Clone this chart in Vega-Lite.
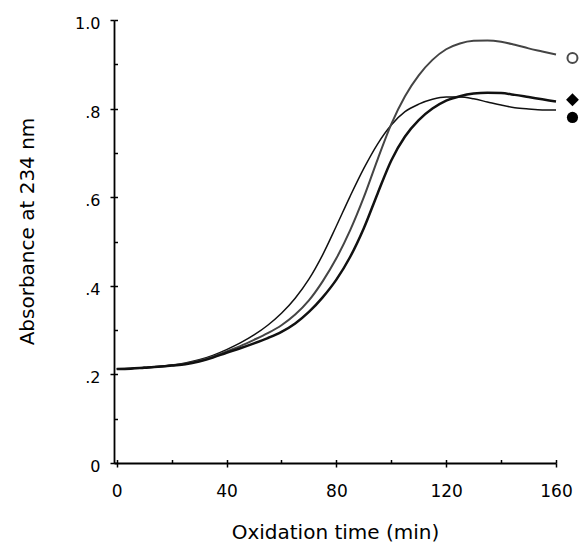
{
  "$schema": "https://vega.github.io/schema/vega-lite/v6.json",
  "width": 442,
  "height": 443,
  "autosize": {"type": "none"},
  "padding": {"left": 114, "top": 20, "right": 23, "bottom": 79},
  "background": "white",
  "config": {
    "view": {"stroke": null},
    "axis": {
      "domainColor": "black",
      "domainWidth": 1.8,
      "tickColor": "black",
      "tickWidth": 1.5,
      "labelColor": "black",
      "titleColor": "black",
      "labelFont": "DejaVu Sans",
      "titleFont": "DejaVu Sans",
      "titleFontWeight": "normal",
      "grid": false
    }
  },
  "datasets": {
    "curves": [
      {"t": 0, "A": 0.213, "s": "filled"}, {"t": 5, "A": 0.214, "s": "filled"}, {"t": 10, "A": 0.216, "s": "filled"}, {"t": 15, "A": 0.218, "s": "filled"}, {"t": 20, "A": 0.221, "s": "filled"}, {"t": 25, "A": 0.226, "s": "filled"}, {"t": 30, "A": 0.233, "s": "filled"}, {"t": 35, "A": 0.243, "s": "filled"}, {"t": 40, "A": 0.256, "s": "filled"}, {"t": 45, "A": 0.271, "s": "filled"}, {"t": 50, "A": 0.289, "s": "filled"}, {"t": 55, "A": 0.311, "s": "filled"}, {"t": 60, "A": 0.338, "s": "filled"}, {"t": 65, "A": 0.372, "s": "filled"}, {"t": 70, "A": 0.415, "s": "filled"}, {"t": 75, "A": 0.470, "s": "filled"}, {"t": 80, "A": 0.535, "s": "filled"}, {"t": 85, "A": 0.602, "s": "filled"}, {"t": 90, "A": 0.665, "s": "filled"}, {"t": 95, "A": 0.720, "s": "filled"}, {"t": 100, "A": 0.763, "s": "filled"}, {"t": 105, "A": 0.793, "s": "filled"}, {"t": 110, "A": 0.810, "s": "filled"}, {"t": 115, "A": 0.821, "s": "filled"}, {"t": 120, "A": 0.826, "s": "filled"}, {"t": 125, "A": 0.826, "s": "filled"}, {"t": 130, "A": 0.822, "s": "filled"}, {"t": 135, "A": 0.815, "s": "filled"}, {"t": 140, "A": 0.808, "s": "filled"}, {"t": 145, "A": 0.802, "s": "filled"}, {"t": 150, "A": 0.799, "s": "filled"}, {"t": 155, "A": 0.797, "s": "filled"}, {"t": 160, "A": 0.797, "s": "filled"},
      {"t": 0, "A": 0.212, "s": "open"}, {"t": 5, "A": 0.213, "s": "open"}, {"t": 10, "A": 0.215, "s": "open"}, {"t": 15, "A": 0.217, "s": "open"}, {"t": 20, "A": 0.220, "s": "open"}, {"t": 25, "A": 0.224, "s": "open"}, {"t": 30, "A": 0.231, "s": "open"}, {"t": 35, "A": 0.240, "s": "open"}, {"t": 40, "A": 0.252, "s": "open"}, {"t": 45, "A": 0.264, "s": "open"}, {"t": 50, "A": 0.278, "s": "open"}, {"t": 55, "A": 0.293, "s": "open"}, {"t": 60, "A": 0.311, "s": "open"}, {"t": 65, "A": 0.335, "s": "open"}, {"t": 70, "A": 0.367, "s": "open"}, {"t": 75, "A": 0.410, "s": "open"}, {"t": 80, "A": 0.462, "s": "open"}, {"t": 85, "A": 0.525, "s": "open"}, {"t": 90, "A": 0.600, "s": "open"}, {"t": 95, "A": 0.685, "s": "open"}, {"t": 100, "A": 0.765, "s": "open"}, {"t": 105, "A": 0.828, "s": "open"}, {"t": 110, "A": 0.875, "s": "open"}, {"t": 115, "A": 0.910, "s": "open"}, {"t": 120, "A": 0.934, "s": "open"}, {"t": 125, "A": 0.947, "s": "open"}, {"t": 130, "A": 0.953, "s": "open"}, {"t": 135, "A": 0.954, "s": "open"}, {"t": 140, "A": 0.951, "s": "open"}, {"t": 145, "A": 0.944, "s": "open"}, {"t": 150, "A": 0.936, "s": "open"}, {"t": 155, "A": 0.929, "s": "open"}, {"t": 160, "A": 0.922, "s": "open"},
      {"t": 0, "A": 0.212, "s": "diamond"}, {"t": 5, "A": 0.213, "s": "diamond"}, {"t": 10, "A": 0.215, "s": "diamond"}, {"t": 15, "A": 0.217, "s": "diamond"}, {"t": 20, "A": 0.220, "s": "diamond"}, {"t": 25, "A": 0.223, "s": "diamond"}, {"t": 30, "A": 0.229, "s": "diamond"}, {"t": 35, "A": 0.238, "s": "diamond"}, {"t": 40, "A": 0.249, "s": "diamond"}, {"t": 45, "A": 0.259, "s": "diamond"}, {"t": 50, "A": 0.270, "s": "diamond"}, {"t": 55, "A": 0.282, "s": "diamond"}, {"t": 60, "A": 0.296, "s": "diamond"}, {"t": 65, "A": 0.315, "s": "diamond"}, {"t": 70, "A": 0.341, "s": "diamond"}, {"t": 75, "A": 0.374, "s": "diamond"}, {"t": 80, "A": 0.414, "s": "diamond"}, {"t": 85, "A": 0.465, "s": "diamond"}, {"t": 90, "A": 0.530, "s": "diamond"}, {"t": 95, "A": 0.608, "s": "diamond"}, {"t": 100, "A": 0.683, "s": "diamond"}, {"t": 105, "A": 0.737, "s": "diamond"}, {"t": 110, "A": 0.774, "s": "diamond"}, {"t": 115, "A": 0.800, "s": "diamond"}, {"t": 120, "A": 0.818, "s": "diamond"}, {"t": 125, "A": 0.828, "s": "diamond"}, {"t": 130, "A": 0.834, "s": "diamond"}, {"t": 135, "A": 0.836, "s": "diamond"}, {"t": 140, "A": 0.835, "s": "diamond"}, {"t": 145, "A": 0.831, "s": "diamond"}, {"t": 150, "A": 0.826, "s": "diamond"}, {"t": 155, "A": 0.821, "s": "diamond"}, {"t": 160, "A": 0.816, "s": "diamond"}
    ],
    "markers": [
      {"t": 166, "A": 0.914, "s": "open"},
      {"t": 166, "A": 0.820, "s": "diamond"},
      {"t": 166, "A": 0.780, "s": "filled"}
    ]
  },
  "resolve": {"axis": {"x": "independent", "y": "independent"}},
  "layer": [
    {
      "data": {"name": "curves"},
      "mark": {"type": "line", "interpolate": "monotone", "clip": false},
      "encoding": {
        "x": {
          "field": "t", "type": "quantitative",
          "scale": {"domain": [-1, 160], "nice": false, "zero": false},
          "axis": {
            "orient": "bottom",
            "values": [0, 40, 80, 120, 160],
            "tickSize": 4,
            "labelFontSize": 17,
            "labelPadding": 29.7,
            "labelBaseline": "alphabetic",
            "labelFlush": false,
            "labelOverlap": false,
            "title": "Oxidation time (min)",
            "titleFontSize": 20,
            "titleBaseline": "alphabetic",
            "titleY": 75
          }
        },
        "y": {
          "field": "A", "type": "quantitative",
          "scale": {"domain": [0, 1], "nice": false},
          "axis": {
            "orient": "left",
            "values": [0, 0.2, 0.4, 0.6, 0.8, 1],
            "labelExpr": "datum.value == 0 ? '0' : datum.value == 1 ? '1.0' : replace(format(datum.value, '.1f'), '0.', '.')",
            "tickSize": 4,
            "labelFontSize": 16,
            "labelPadding": 10,
            "labelBaseline": "middle",
            "labelOffset": 3.5,
            "labelFlush": false,
            "labelOverlap": false,
            "title": "Absorbance at 234 nm",
            "titleFontSize": 20,
            "titleBaseline": "alphabetic",
            "titleAngle": -90,
            "titleX": -81,
            "titleY": 211
          }
        },
        "detail": {"field": "s"},
        "strokeWidth": {
          "field": "s", "type": "nominal",
          "scale": {"domain": ["filled", "open", "diamond"], "range": [1.5, 2.5, 2.2]},
          "legend": null
        },
        "color": {
          "field": "s", "type": "nominal",
          "scale": {"domain": ["filled", "open", "diamond"], "range": ["#111111", "#444444", "#111111"]},
          "legend": null
        }
      }
    },
    {
      "data": {"name": "markers"},
      "transform": [{"filter": "datum.s == 'open'"}],
      "mark": {"type": "point", "filled": false, "shape": "circle", "size": 100, "stroke": "black", "strokeWidth": 2, "clip": false},
      "encoding": {
        "x": {
          "field": "t", "type": "quantitative",
          "axis": {"orient": "bottom", "values": [0, 20, 40, 60, 80, 100, 120, 140, 160], "tickSize": -3.5, "labels": false, "title": null, "domain": false}
        },
        "y": {
          "field": "A", "type": "quantitative",
          "axis": {"orient": "left", "values": [0, 0.1, 0.2, 0.3, 0.4, 0.5, 0.6, 0.7, 0.8, 0.9, 1], "tickSize": -3.5, "labels": false, "title": null, "domain": false}
        }
      }
    },
    {
      "data": {"name": "markers"},
      "transform": [{"filter": "datum.s != 'open'"}],
      "mark": {"type": "point", "filled": true, "color": "black", "opacity": 1, "clip": false},
      "encoding": {
        "x": {"field": "t", "type": "quantitative", "axis": null},
        "y": {"field": "A", "type": "quantitative", "axis": null},
        "shape": {
          "field": "s", "type": "nominal",
          "scale": {"domain": ["diamond", "filled"], "range": ["diamond", "circle"]},
          "legend": null
        },
        "size": {
          "field": "s", "type": "nominal",
          "scale": {"domain": ["diamond", "filled"], "range": [165, 125]},
          "legend": null
        }
      }
    }
  ]
}
